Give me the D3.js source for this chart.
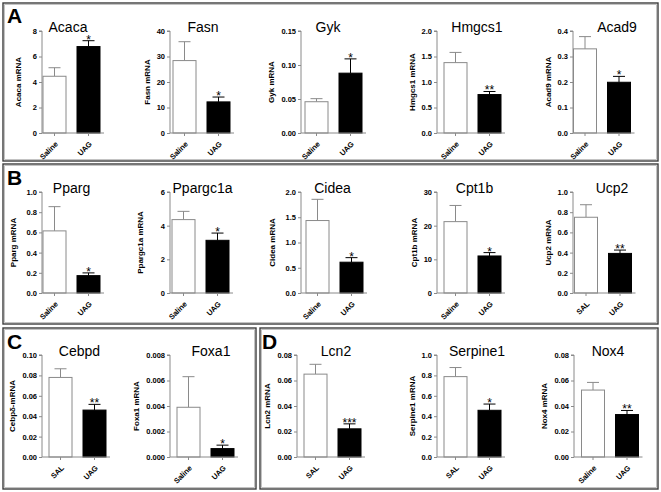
<!DOCTYPE html>
<html><head><meta charset="utf-8">
<script src="https://cdn.jsdelivr.net/npm/d3@7"></script>
<style>
html,body{margin:0;padding:0;background:#fff;}
svg{display:block;font-family:"Liberation Sans",Arial,sans-serif;}
</style></head>
<body><svg id="c" width="661" height="492"></svg>
<script>
// ---- data ----
const genes = ["Acaca","Fasn","Gyk","Hmgcs1","Acad9","Pparg","Ppargc1a","Cidea","Cpt1b","Ucp2","Cebpd","Foxa1","Lcn2","Serpine1","Nox4"];
const yTitles = ["Acaca mRNA","Fasn mRNA","Gyk mRNA","Hmgcs1 mRNA","Acad9 mRNA","Pparg mRNA","Ppargc1a mRNA","Cidea mRNA","Cpt1b mRNA","Ucp2 mRNA","Cebp\u03b4-mRNA","Foxa1 mRNA","Lcn2 mRNA","Serpine1 mRNA","Nox4 mRNA"];
const controlNames = ["Saline","Saline","Saline","Saline","Saline","Saline","Saline","Saline","Saline","SAL","SAL","Saline","SAL","SAL","Saline"];
const treatNames = ["UAG","UAG","UAG","UAG","UAG","UAG","UAG","UAG","UAG","UAG","UAG","UAG","UAG","UAG","UAG"];
const controlMean = [4.45, 28.4, 0.046, 1.38, 0.33, 0.615, 4.36, 1.435, 21.2, 0.75, 0.078, 0.0039, 0.065, 0.788, 0.0525];
const controlSem  = [0.67, 7.4, 0.0045, 0.20, 0.048, 0.24, 0.49, 0.42, 4.8, 0.124, 0.0085, 0.0024, 0.0077, 0.089, 0.006];
const treatMean   = [6.78, 12.2, 0.088, 0.754, 0.199, 0.172, 3.13, 0.61, 11.0, 0.392, 0.046, 0.00066, 0.0221, 0.458, 0.0333];
const treatSem    = [0.46, 1.9, 0.021, 0.06, 0.023, 0.027, 0.43, 0.09, 1.0, 0.033, 0.0056, 0.00027, 0.0039, 0.061, 0.0032];
const stars = ["*","*","*","**","*","*","*","*","*","**","**","*","***","*","**"];
const tickLabels = [
  ["0","2","4","6","8"],
  ["0","10","20","30","40"],
  ["0.00","0.05","0.10","0.15"],
  ["0.0","0.5","1.0","1.5","2.0"],
  ["0.0","0.1","0.2","0.3","0.4"],
  ["0.0","0.2","0.4","0.6","0.8","1.0"],
  ["0","2","4","6"],
  ["0.0","0.5","1.0","1.5","2.0"],
  ["0","10","20","30"],
  ["0.0","0.2","0.4","0.6","0.8","1.0"],
  ["0.00","0.02","0.04","0.06","0.08","0.10"],
  ["0.000","0.002","0.004","0.006","0.008"],
  ["0.00","0.02","0.04","0.06","0.08"],
  ["0.0","0.2","0.4","0.6","0.8","1.0"],
  ["0.00","0.02","0.04","0.06","0.08"]
];
const panelLetters = ["A","B","C","D"];

// ---- layout (positions only) ----
const rows = [{top:31, zero:133},{top:192, zero:293},{top:355, zero:457}];
const layout = [
 {row:0, ax:42,  bx:1,   tdx:26,   ldx:-24},
 {row:0, ax:170, bx:3,   tdx:33,   ldx:-20},
 {row:0, ax:301, bx:4,   tdx:27,   ldx:-29},
 {row:0, ax:437, bx:7,   tdx:40,   ldx:-20},
 {row:0, ax:573, bx:0.5, tdx:44,   ldx:-20},
 {row:1, ax:42,  bx:1,   tdx:29.5, ldx:-29},
 {row:1, ax:170, bx:2,   tdx:32.5, ldx:-30},
 {row:1, ax:301, bx:5,   tdx:31.5, ldx:-29},
 {row:1, ax:437, bx:7,   tdx:37.5, ldx:-20},
 {row:1, ax:573, bx:1.5, tdx:39,   ldx:-20},
 {row:2, ax:42,  bx:7,   tdx:37.5, ldx:-27},
 {row:2, ax:170, bx:7,   tdx:41,   ldx:-32},
 {row:2, ax:297, bx:7,   tdx:39,   ldx:-20},
 {row:2, ax:437, bx:7,   tdx:40,   ldx:-20},
 {row:2, ax:574, bx:7.5, tdx:34,   ldx:-16}
];
const boxes = [
 {x:3, y:3, w:655, h:158, lx:7, ly:23},
 {x:3, y:164, w:655, h:160, lx:7, ly:185},
 {x:3, y:328, w:253, h:161, lx:7, ly:349},
 {x:260, y:328, w:398, h:161, lx:262, ly:349}
];

const svg = d3.select("#c");
const GREY = "#8a8a8a";

boxes.forEach((b,i)=>{
  svg.append("rect").attr("x",b.x).attr("y",b.y).attr("width",b.w).attr("height",b.h)
    .attr("fill","none").attr("stroke","#3c3c3c").attr("stroke-width",1.4);
  svg.append("rect").attr("x",b.x+1.6).attr("y",b.y+1.6).attr("width",b.w-3.2).attr("height",b.h-3.2)
    .attr("fill","none").attr("stroke","#b5b5b5").attr("stroke-width",0.8);
  svg.append("text").attr("x",b.lx).attr("y",b.ly).text(panelLetters[i])
    .attr("font-size",21).attr("font-weight","bold").attr("fill","#000");
});

genes.forEach((g,i)=>{
  const L = layout[i], R = rows[L.row];
  const ticks = tickLabels[i].map(Number);
  const yMax = ticks[ticks.length-1];
  const y = d3.scaleLinear().domain([0,yMax]).range([R.zero,R.top]);
  const names = [controlNames[i], treatNames[i]];
  const x = d3.scaleBand().domain(names).range([L.bx, L.bx+57]).paddingInner(11/34).paddingOuter(0);
  const gg = svg.append("g").attr("transform",`translate(${L.ax},0)`);

  const means = [controlMean[i], treatMean[i]];
  const sems = [controlSem[i], treatSem[i]];
  names.forEach((n,k)=>{
    const cx = x(n) + x.bandwidth()/2;
    const top = y(means[k]+sems[k]);
    const col = k===0 ? GREY : "#000";
    gg.append("line").attr("x1",cx).attr("x2",cx).attr("y1",y(means[k])).attr("y2",top)
      .attr("stroke",col).attr("stroke-width",1);
    gg.append("line").attr("x1",cx-6).attr("x2",cx+6).attr("y1",top).attr("y2",top)
      .attr("stroke",col).attr("stroke-width",1);
    gg.append("rect").attr("x",x(n)).attr("y",y(means[k])).attr("width",x.bandwidth())
      .attr("height",R.zero-y(means[k]))
      .attr("fill",k===0?"#fff":"#000").attr("stroke",k===0?GREY:"#000").attr("stroke-width",1);
    if(k===1){
      gg.append("text").attr("x",cx).attr("y",top+3).attr("text-anchor","middle")
        .attr("font-size",12).attr("fill","#000").text(stars[i]);
    }
  });

  // y axis
  const yAx = d3.axisLeft(y).tickValues(ticks).tickFormat((d,j)=>tickLabels[i][j]).tickSize(3).tickPadding(2);
  const ya = gg.append("g").call(yAx);
  ya.attr("font-family",null).attr("font-size",null);
  ya.select(".domain").attr("stroke",GREY).attr("d",`M-3,${R.top}H0V${R.zero}`);
  ya.selectAll(".tick line").attr("stroke",GREY);
  ya.selectAll(".tick text").attr("font-size",7.5).attr("font-weight","bold").attr("fill","#000");
  let tickLeft = 0;
  ya.selectAll(".tick text").each(function(){ const b=this.getBBox(); tickLeft=Math.min(tickLeft,b.x-5); });

  // x axis
  const xEnd = L.bx + 57 + 4;
  const xa = gg.append("g").attr("transform",`translate(0,${R.zero})`);
  xa.append("line").attr("x1",0).attr("x2",xEnd).attr("y1",0).attr("y2",0).attr("stroke",GREY);
  names.forEach(n=>{
    const cx = x(n) + x.bandwidth()/2;
    xa.append("line").attr("x1",cx).attr("x2",cx).attr("y1",0).attr("y2",3).attr("stroke",GREY);
    xa.append("g").attr("transform",`translate(${cx+4},11.5) rotate(-45)`)
      .append("text").attr("text-anchor","end").attr("font-size",7.5).attr("font-weight","bold")
      .attr("fill","#000").text(n);
  });

  // y title
  const lx = Math.min(L.ldx+3, tickLeft-2);
  const ly = (R.top+R.zero)/2;
  gg.append("g").attr("transform",`translate(${lx},${ly}) rotate(-90)`)
    .append("text").attr("text-anchor","middle").attr("font-size",8).attr("font-weight","bold").attr("fill","#000")
    .text(yTitles[i]);

  // chart title
  gg.append("text").attr("x",L.tdx).attr("y",R.top+1).attr("text-anchor","middle")
    .attr("font-size",14).attr("fill","#000").text(g);
});
</script>
</body></html>
